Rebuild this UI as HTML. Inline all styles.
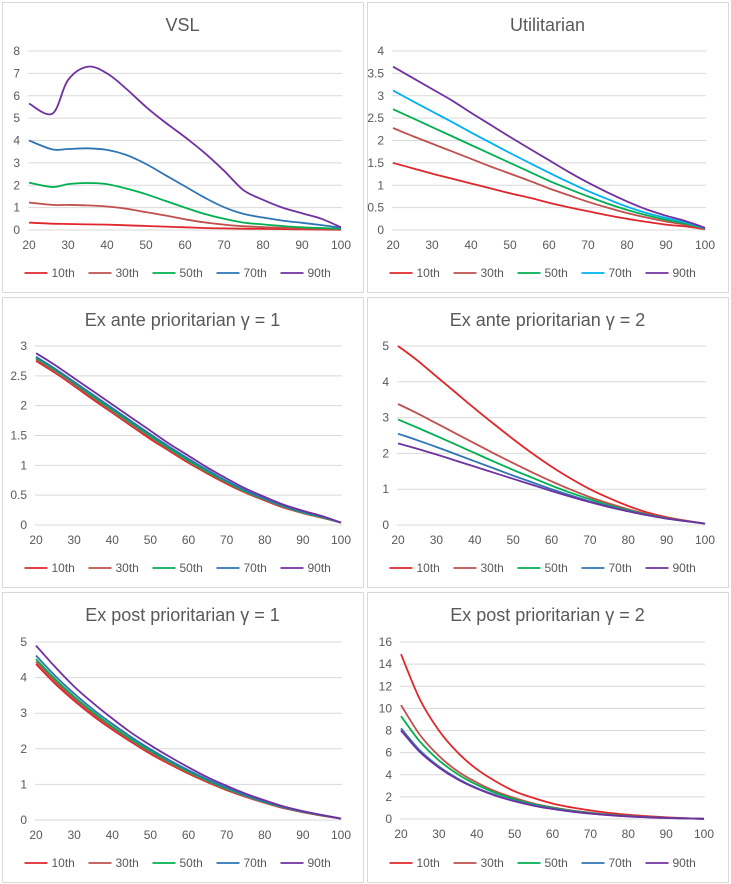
<!DOCTYPE html>
<html><head><meta charset="utf-8"><style>
html,body{margin:0;padding:0;background:#fff;}
svg{display:block;font-family:"Liberation Sans",sans-serif;}
</style></head><body>
<svg id="c" width="731" height="884"></svg>
<script>
const ages = [20,25,30,35,40,45,50,55,60,65,70,75,80,85,90,95,100];
const vslAges = [20,26,30,35,40,45,50,55,60,65,70,75,80,85,90,95,100];
const seriesNames = ["10th","30th","50th","70th","90th"];
const xTicks = [20,30,40,50,60,70,80,90,100];

const vsl10 = [0.33,0.28,0.27,0.25,0.24,0.21,0.18,0.15,0.12,0.09,0.07,0.06,0.05,0.04,0.03,0.02,0.01];
const vsl30 = [1.23,1.12,1.12,1.1,1.05,0.95,0.8,0.65,0.48,0.34,0.24,0.17,0.13,0.1,0.07,0.05,0.03];
const vsl50 = [2.12,1.92,2.05,2.1,2.05,1.85,1.6,1.3,1.0,0.72,0.5,0.33,0.25,0.18,0.12,0.09,0.05];
const vsl70 = [4.0,3.6,3.62,3.65,3.58,3.35,2.95,2.45,1.95,1.45,1.02,0.72,0.56,0.42,0.32,0.22,0.1];
const vsl90 = [5.65,5.2,6.7,7.3,7.0,6.3,5.5,4.8,4.15,3.45,2.65,1.78,1.35,1.0,0.75,0.5,0.12];

const util10 = [1.5,1.38,1.26,1.15,1.04,0.93,0.82,0.72,0.61,0.51,0.42,0.33,0.25,0.18,0.12,0.08,0.02];
const util30 = [2.28,2.1,1.93,1.76,1.59,1.42,1.26,1.1,0.93,0.78,0.63,0.5,0.38,0.28,0.19,0.12,0.03];
const util50 = [2.7,2.5,2.3,2.1,1.9,1.7,1.5,1.3,1.1,0.92,0.75,0.59,0.45,0.33,0.23,0.14,0.04];
const util70 = [3.12,2.88,2.65,2.42,2.18,1.95,1.72,1.5,1.28,1.07,0.87,0.69,0.52,0.38,0.27,0.17,0.04];
const util90 = [3.65,3.4,3.15,2.9,2.62,2.35,2.08,1.82,1.56,1.3,1.06,0.84,0.64,0.46,0.32,0.2,0.05];

const ea1_10 = [2.75,2.55,2.33,2.1,1.88,1.66,1.44,1.24,1.04,0.86,0.69,0.54,0.41,0.29,0.2,0.12,0.04];
const ea1_30 = [2.78,2.57,2.35,2.13,1.9,1.68,1.47,1.26,1.06,0.88,0.71,0.55,0.42,0.3,0.2,0.13,0.04];
const ea1_50 = [2.8,2.6,2.38,2.15,1.93,1.71,1.49,1.28,1.08,0.89,0.72,0.56,0.43,0.31,0.21,0.13,0.04];
const ea1_70 = [2.82,2.62,2.4,2.18,1.96,1.74,1.52,1.31,1.11,0.92,0.74,0.58,0.44,0.32,0.22,0.14,0.04];
const ea1_90 = [2.88,2.68,2.46,2.24,2.02,1.8,1.58,1.36,1.16,0.96,0.78,0.61,0.47,0.34,0.24,0.15,0.04];

const ea2_10 = [5.0,4.6,4.15,3.7,3.25,2.82,2.4,2.0,1.63,1.3,1.0,0.75,0.53,0.35,0.22,0.12,0.04];
const ea2_30 = [3.38,3.12,2.84,2.56,2.28,2.0,1.73,1.47,1.22,0.99,0.78,0.6,0.44,0.31,0.2,0.12,0.04];
const ea2_50 = [2.95,2.72,2.49,2.25,2.01,1.77,1.54,1.32,1.1,0.9,0.72,0.55,0.41,0.29,0.19,0.11,0.04];
const ea2_70 = [2.55,2.37,2.18,1.98,1.78,1.58,1.38,1.19,1.0,0.83,0.66,0.52,0.39,0.28,0.18,0.11,0.04];
const ea2_90 = [2.28,2.13,1.97,1.8,1.63,1.46,1.29,1.12,0.95,0.79,0.64,0.5,0.38,0.27,0.18,0.11,0.04];

const ep1_10 = [4.38,3.83,3.35,2.92,2.54,2.19,1.86,1.57,1.3,1.06,0.84,0.65,0.48,0.33,0.22,0.12,0.04];
const ep1_30 = [4.45,3.9,3.41,2.98,2.59,2.23,1.9,1.6,1.33,1.08,0.86,0.66,0.49,0.34,0.22,0.13,0.04];
const ep1_50 = [4.52,3.96,3.47,3.03,2.63,2.27,1.94,1.64,1.36,1.11,0.88,0.68,0.5,0.35,0.23,0.13,0.04];
const ep1_70 = [4.62,4.05,3.55,3.1,2.7,2.33,1.99,1.68,1.4,1.14,0.91,0.7,0.52,0.36,0.24,0.14,0.04];
const ep1_90 = [4.9,4.3,3.75,3.28,2.85,2.45,2.1,1.78,1.48,1.2,0.96,0.74,0.55,0.38,0.25,0.14,0.04];

const ep2_10 = [14.9,10.8,8.0,6.0,4.5,3.4,2.5,1.9,1.4,1.05,0.78,0.55,0.38,0.25,0.15,0.08,0.02];
const ep2_30 = [10.3,7.6,5.7,4.3,3.3,2.5,1.9,1.4,1.05,0.78,0.57,0.4,0.28,0.18,0.11,0.06,0.02];
const ep2_50 = [9.3,7.0,5.3,4.05,3.1,2.35,1.78,1.33,1.0,0.74,0.54,0.38,0.26,0.17,0.1,0.05,0.02];
const ep2_70 = [8.2,6.2,4.75,3.65,2.8,2.15,1.64,1.24,0.93,0.69,0.5,0.35,0.24,0.16,0.1,0.05,0.02];
const ep2_90 = [8.0,6.05,4.65,3.57,2.75,2.1,1.6,1.2,0.9,0.67,0.49,0.34,0.23,0.15,0.09,0.05,0.02];

const yTicks1 = [0,1,2,3,4,5,6,7,8];
const yTicks2 = [0,0.5,1,1.5,2,2.5,3,3.5,4];
const yTicks3 = [0,0.5,1,1.5,2,2.5,3];
const yTicks4 = [0,1,2,3,4,5];
const yTicks6 = [0,2,4,6,8,10,12,14,16];

const colA = ["#e0262b","#c0504d","#00b050","#2e75b6","#7030a0"];
const colB = ["#e0262b","#c0504d","#00b050","#00b0f0","#7030a0"];

const panels = [
 {name:"vsl",title:"VSL",bx:2,by:2,x0:29,x1:341,yt:51,yb:230,ticks:yTicks1,xs:vslAges,data:[vsl10,vsl30,vsl50,vsl70,vsl90],col:colA},
 {name:"utilitarian",title:"Utilitarian",bx:367,by:2,x0:393,x1:705,yt:51,yb:230,ticks:yTicks2,xs:ages,data:[util10,util30,util50,util70,util90],col:colB},
 {name:"ex-ante-g1",title:"Ex ante prioritarian \u03b3 = 1",bx:2,by:297,x0:36,x1:341,yt:346,yb:525,ticks:yTicks3,xs:ages,data:[ea1_10,ea1_30,ea1_50,ea1_70,ea1_90],col:colA},
 {name:"ex-ante-g2",title:"Ex ante prioritarian \u03b3 = 2",bx:367,by:297,x0:398,x1:705,yt:346,yb:525,ticks:yTicks4,xs:ages,data:[ea2_10,ea2_30,ea2_50,ea2_70,ea2_90],col:colA},
 {name:"ex-post-g1",title:"Ex post prioritarian \u03b3 = 1",bx:2,by:592,x0:36,x1:341,yt:642,yb:820,ticks:yTicks4,xs:ages,data:[ep1_10,ep1_30,ep1_50,ep1_70,ep1_90],col:colA},
 {name:"ex-post-g2",title:"Ex post prioritarian \u03b3 = 2",bx:367,by:592,x0:401,x1:704,yt:642,yb:819,ticks:yTicks6,xs:ages,data:[ep2_10,ep2_30,ep2_50,ep2_70,ep2_90],col:colA}
];
const NS="http://www.w3.org/2000/svg";
const svg=document.getElementById('c');
function mk(tag,attrs,parent){const e=document.createElementNS(NS,tag);for(const k in attrs)e.setAttribute(k,attrs[k]);parent.appendChild(e);return e;}
function smooth(pts){
  let d='M'+pts[0][0].toFixed(1)+' '+pts[0][1].toFixed(1);
  for(let i=0;i<pts.length-1;i++){
    const p0=pts[Math.max(0,i-1)],p1=pts[i],p2=pts[i+1],p3=pts[Math.min(pts.length-1,i+2)];
    const c1x=p1[0]+(p2[0]-p0[0])/6,c1y=p1[1]+(p2[1]-p0[1])/6;
    const c2x=p2[0]-(p3[0]-p1[0])/6,c2y=p2[1]-(p3[1]-p1[1])/6;
    d+=' C'+c1x.toFixed(1)+' '+c1y.toFixed(1)+' '+c2x.toFixed(1)+' '+c2y.toFixed(1)+' '+p2[0].toFixed(1)+' '+p2[1].toFixed(1);
  }
  return d;
}
panels.forEach(p=>{
  const g=mk('g',{},svg);
  
  
  const w=361,h=290;
  const border=mk('rect',{x:p.bx+0.5,y:p.by+0.5,width:w,height:h,fill:'#fff',stroke:'#d9d9d9'},g);
  
  
  const cx=p.bx+w/2;
  const t=mk('text',{x:cx,y:p.by+29,'text-anchor':'middle','font-size':'18',fill:'#595959'},g);
  t.textContent=p.title;
  
  
  const ymax=p.ticks[p.ticks.length-1];
  const X=v=>p.x0+(v-20)/80*(p.x1-p.x0);
  const Y=v=>p.yb-v/ymax*(p.yb-p.yt);
  p.ticks.forEach(v=>{
    const l=mk('line',{x1:p.x0-1,x2:p.x1+1,y1:Y(v),y2:Y(v),stroke:'#d9d9d9','stroke-width':1},g);
    
    
    const tl=mk('text',{x:p.x0-9,y:Y(v)+4,'text-anchor':'end','font-size':'12',fill:'#595959'},g);
    tl.textContent=String(v);
    
    
  });
  xTicks.forEach(v=>{
    const tl=mk('text',{x:X(v),y:p.yb+19,'text-anchor':'middle','font-size':'12',fill:'#595959'},g);
    tl.textContent=String(v);
    
    
  });
  p.data.forEach((arr,i)=>{
    const pts=arr.map((v,j)=>[X(p.xs[j]),Y(v)]);
    const pa=mk('path',{d:smooth(pts),fill:'none',stroke:p.col[i],'stroke-width':1.8,'stroke-linejoin':'round'},g);
    
    
  });
  const ly=p.by+h-19, lw=64, lx0=cx-lw*2.5+2;
  seriesNames.forEach((s,i)=>{
    const lg=mk('g',{},g);
    
    
    const x=lx0+i*lw;
    mk('line',{x1:x,x2:x+23,y1:ly,y2:ly,stroke:p.col[i],'stroke-width':1.8},lg);
    const tt=mk('text',{x:x+27,y:ly+4,'font-size':'12',fill:'#595959'},lg);
    tt.textContent=s;
  });
});
</script>
</body></html>
